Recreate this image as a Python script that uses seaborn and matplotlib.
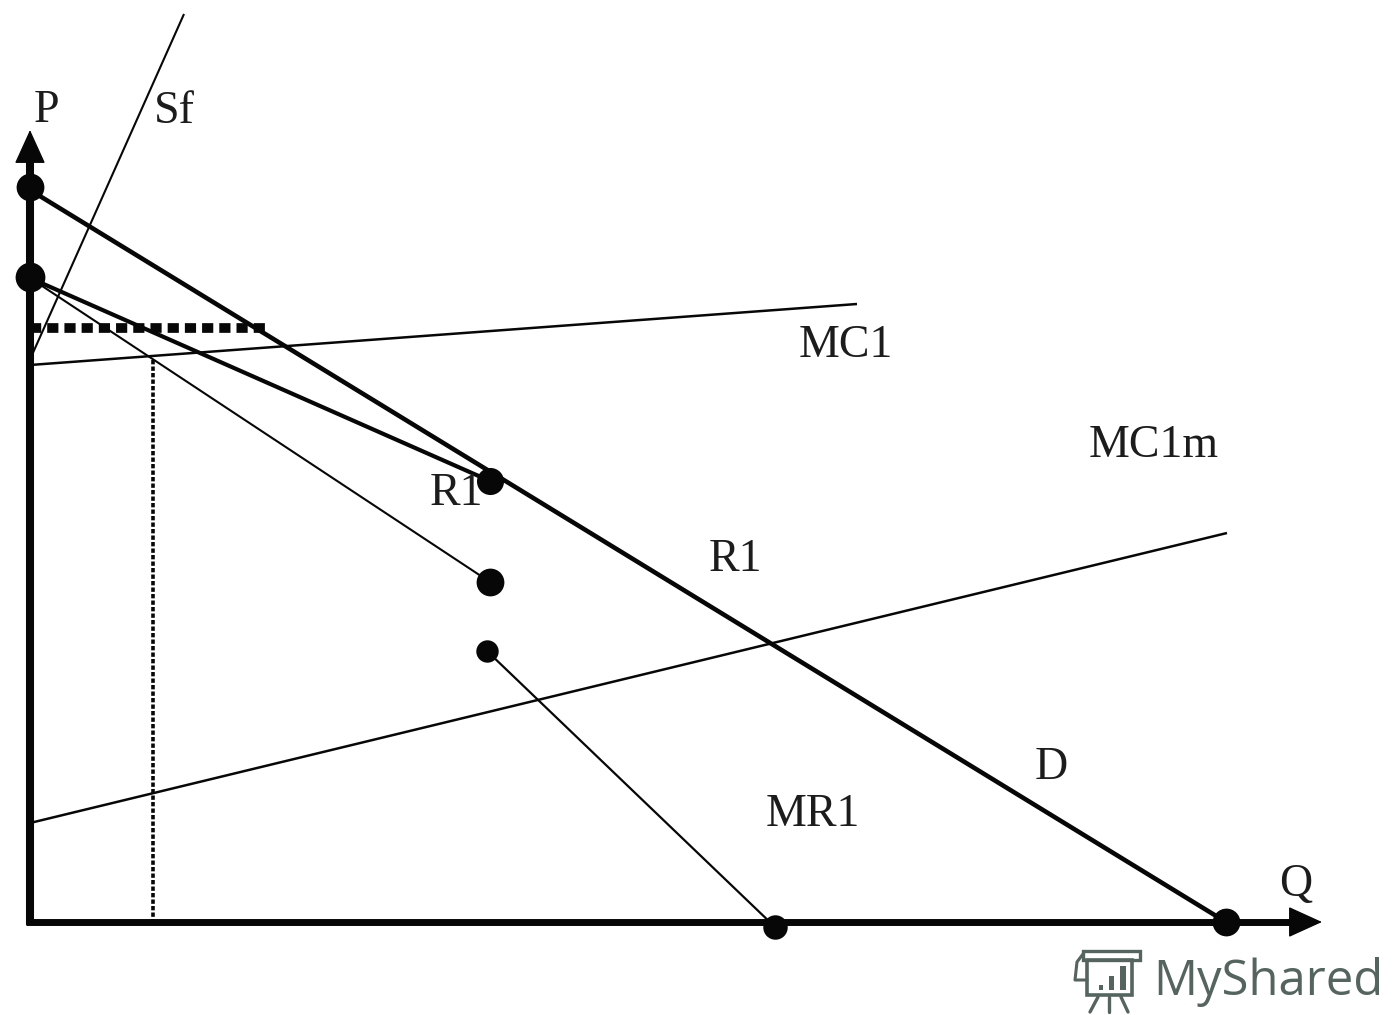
import matplotlib
matplotlib.use("Agg")
import matplotlib.pyplot as plt
from matplotlib.patches import Rectangle
import seaborn as sns
import pandas as pd

# Quantity / price readings for each curve
d_q = [0, 1196]; d_p = [732, 0]
r1_upper_q = [0, 460]; r1_upper_p = [644, 441]
r1_lower_q = [0, 460]; r1_lower_p = [644, 340]
mr1_q = [457, 745]; mr1_p = [271, -5]
mc1_q = [0, 827]; mc1_p = [557, 618]
mc1m_q = [0, 1197]; mc1m_p = [99, 389]
sf_q = [2, 154]; sf_p = [567, 908]
price_q = [0, 235]; price_p = [594, 594]
drop_q = [123, 123]; drop_p = [562, 0]
point_q = [0, 0, 460, 460, 457, 745, 1196]
point_p = [735, 645, 441, 340, 271, -5, 0]
point_size = [400, 460, 380, 400, 260, 310, 400]
label_text = ["P", "Sf", "MC1", "MC1m", "R1", "R1", "D", "MR1", "Q"]
label_q = [4, 124, 769, 1059, 400, 679, 1005, 736, 1249]
label_p = [811, 810, 576, 476, 428, 362, 154, 107, 37]

sns.set_theme(style="white")
plt.rcParams['font.family'] = ['Liberation Serif', 'DejaVu Serif']
fig = plt.figure(figsize=(13.94, 10.15), dpi=100)
ax = fig.add_axes([0, 0, 1, 1])
INK = "#070707"

def curve(q, p, lw, ls="-", color=INK):
    sns.lineplot(data=pd.DataFrame({"q": q, "p": p}), x="q", y="p", ax=ax, color=color,
                 linewidth=lw, linestyle=ls, sort=False, estimator=None, errorbar=None,
                 solid_capstyle="butt", dash_capstyle="butt")

curve(d_q, d_p, 3.3)
curve(r1_upper_q, r1_upper_p, 3.0)
curve(r1_lower_q, r1_lower_p, 1.5)
curve(mr1_q, mr1_p, 1.6)
curve(mc1_q, mc1_p, 1.8)
curve(mc1m_q, mc1m_p, 1.8)
curve(sf_q, sf_p, 1.5)
curve(price_q, price_p, 7, ls=(0, (1.15, 0.62)))
curve(drop_q, drop_p, 2.6, ls=(0, (1.2, 0.6)))
curve([0, 0], [-3, 770], 5.8)
curve([-4, 1270], [0, 0], 5)

for q, p, s in zip(point_q, point_p, point_size):
    sns.scatterplot(x=[q], y=[p], ax=ax, color=INK, s=s, marker="o", linewidth=0, zorder=5)

ax.set_xlim(-30, 1364)
ax.set_ylim(-93, 922)
ax.annotate("", xy=(0, 792), xytext=(0, 765),
            arrowprops=dict(arrowstyle="-|>,head_width=0.5,head_length=1.1", lw=1, color=INK, shrinkA=0, shrinkB=0, mutation_scale=20))
ax.annotate("", xy=(1292, 0), xytext=(1262, 0),
            arrowprops=dict(arrowstyle="-|>,head_width=0.5,head_length=1.1", lw=1, color=INK, shrinkA=0, shrinkB=0, mutation_scale=20))

for t, q, p in zip(label_text, label_q, label_p):
    ax.text(q, p, t, fontsize=33, ha="left", va="center", color="#1c1c1c")

# Watermark
LOGO = "#55645e"
ax.text(1123, -60, "MyShared", fontsize=35.3, color=LOGO, va="center",
        family=["Open Sans", "DejaVu Sans"])
ax.add_patch(Rectangle((1057, -73), 45, 35, fill=False, ec=LOGO, lw=2.6))
ax.add_patch(Rectangle((1053, -38), 57, 9, fill=False, ec=LOGO, lw=2.4))
ax.plot([1053, 1047, 1045, 1057], [-32, -40, -58, -58], color=LOGO, lw=2.2)
for q, h, w in [(1069, 5, 4), (1079, 14, 5), (1090, 24, 6)]:
    ax.add_patch(Rectangle((q, -68), w, h, color=LOGO, lw=0))
for q0, q1 in [(1068, 1060), (1079, 1079), (1091, 1098)]:
    ax.plot([q0, q1], [-75, -90], color=LOGO, lw=2.4)

ax.set_xlim(-30, 1364)
ax.set_ylim(-93, 922)
ax.axis("off")
fig.savefig("out.png", dpi=100)
